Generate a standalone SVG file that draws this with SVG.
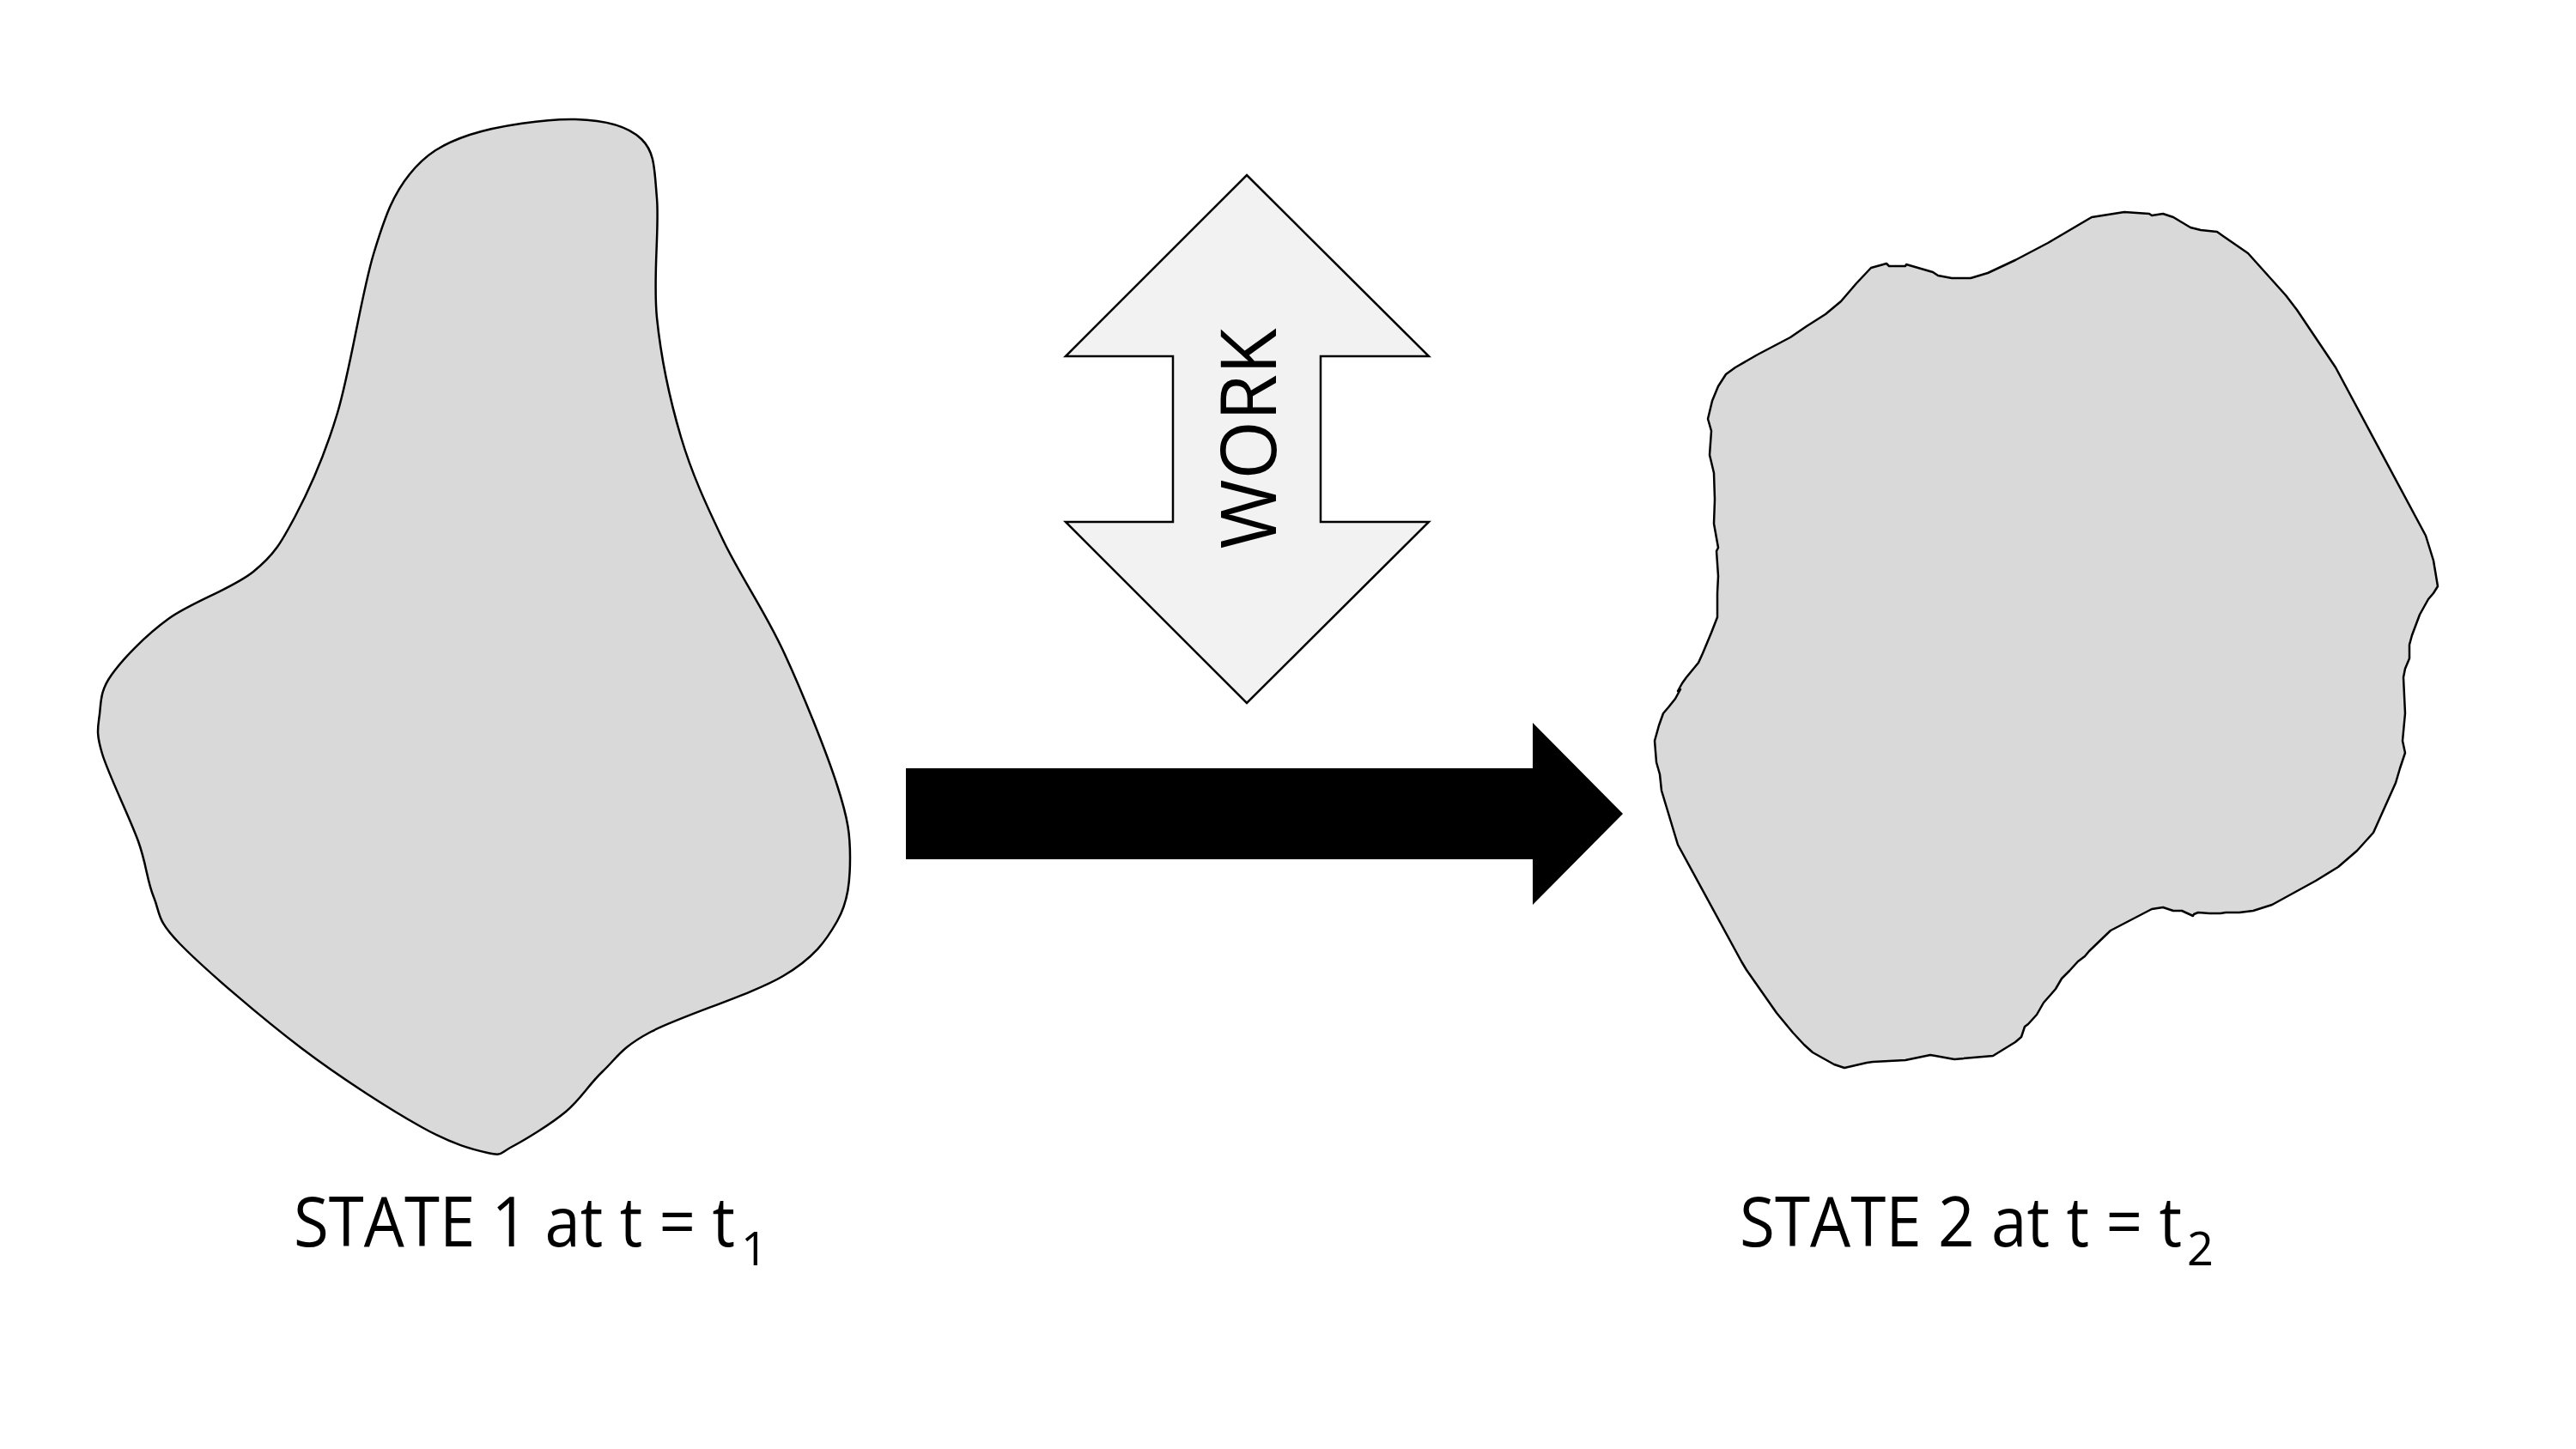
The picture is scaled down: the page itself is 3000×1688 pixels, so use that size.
<svg xmlns="http://www.w3.org/2000/svg" width="3000" height="1688" viewBox="0 0 3000 1688">
<style>
.blob{fill:#d9d9d9;stroke:#000;stroke-width:2.5;stroke-linejoin:round}
.lbl{font-family:"Open Sans","Liberation Sans",sans-serif;fill:#000}
</style>
<rect width="3000" height="1688" fill="#fff"/>
<g id="state1">
<path class="blob" d="M670,139 C703.3,139.8 731.2,146.7 747,162 C762.8,177.3 762,196.3 765,231 C768,265.7 760.3,323.7 765,370 C769.7,416.3 780.2,465.8 793,509 C805.8,552.2 822.2,587.5 842,629 C861.8,670.5 889.8,710.3 912,758 C934.2,805.7 962,874.8 975,915 C988,955.2 990,972.7 990,999 C990,1025.3 988,1050 975,1073 C962,1096 948.2,1115.5 912,1137 C875.8,1158.5 793,1183.5 758,1202 C723,1220.5 718.5,1232.5 702,1248 C685.5,1263.5 676.7,1280.3 659,1295 C641.3,1309.7 611.2,1328 596,1336 C580.8,1344 585.5,1346.8 568,1343 C550.5,1339.2 527.2,1333.3 491,1313 C454.8,1292.7 397.8,1256.5 351,1221 C304.2,1185.5 238.7,1129.3 210,1100 C181.3,1070.7 187.2,1065 179,1045 C170.8,1025 171,1007.8 161,980 C151,952.2 126.5,902.7 119,878 C111.5,853.3 114.2,847.3 116,832 C117.8,816.7 116.7,804.5 130,786 C143.3,767.5 168.5,741 196,721 C223.5,701 270.3,686 295,666 C319.7,646 327.7,631.8 344,601 C360.3,570.2 377.8,531.8 393,481 C408.2,430.2 421,342.3 435,296 C449,249.7 458.3,226.2 477,203 C495.7,179.8 514.8,167.7 547,157 C579.2,146.3 636.7,138.2 670,139 Z"/>
<text class="lbl" x="342" y="1452" font-size="81" textLength="514" lengthAdjust="spacingAndGlyphs">STATE 1 at t = t</text>
<text class="lbl" x="863" y="1474" font-size="54">1</text>
</g>
<g id="state2">
<path class="blob" d="M2179,312 L2197,307 L2200,310 L2219,310 L2220,308 L2251,317 L2257,321 L2273,324 L2295,324 L2315,318 L2347,303 L2385,283 L2436,253 L2474,247 L2503,249 L2506,251 L2519,249 L2531,253 L2551,265 L2563,268 L2582,270 L2589,275 L2618,295 L2662,344 L2675,361 L2720,428 L2825,624 L2834,653 L2839,683 L2834,691 L2828,698 L2818,716 L2809,740 L2806,751 L2806,767 L2801,779 L2799,789 L2801,831 L2798,863 L2801,877 L2795,895 L2790,912 L2764,970 L2745,991 L2723,1010 L2697,1026 L2646,1054 L2624,1061 L2608,1063 L2592,1063 L2586,1064 L2573,1064 L2560,1063 L2555,1065 L2554,1067 L2541,1061 L2531,1061 L2519,1057 L2506,1059 L2458,1084 L2433,1108 L2428,1114 L2420,1120 L2410,1131 L2401,1140 L2394,1152 L2388,1159 L2380,1168 L2372,1182 L2362,1193 L2358,1196 L2354,1208 L2347,1214 L2321,1230 L2276,1234 L2254,1230 L2248,1229 L2219,1235 L2181,1237 L2174,1238 L2148,1244 L2136,1240 L2111,1226 L2101,1217 L2088,1203 L2069,1180 L2034,1130 L2028,1120 L1954,984 L1935,921 L1933,902 L1929,888 L1927,863 L1932,845 L1937,831 L1943,824 L1951,814 L1957,803 L1954,805 L1959,796 L1964,789 L1978,772 L1983,761 L1993,737 L2000,719 L2000,691 L2001,671 L1999,642 L2001,638 L1996,610 L1997,582 L1996,551 L1991,530 L1993,502 L1989,488 L1994,467 L2001,450 L2010,436 L2021,428 L2047,413 L2085,393 L2104,380 L2126,366 L2144,351 L2162,330 Z"/>
<text class="lbl" x="2026" y="1452" font-size="81" textLength="515" lengthAdjust="spacingAndGlyphs">STATE 2 at t = t</text>
<text class="lbl" x="2547" y="1474" font-size="54">2</text>
</g>
<g id="work">
<path d="M1452,204 L1664,415 L1538,415 L1538,608 L1664,608 L1452,819 L1241,608 L1366,608 L1366,415 L1241,415 Z" fill="#f2f2f2" stroke="#000" stroke-width="2.5" stroke-linejoin="miter"/>
<text class="lbl" transform="translate(1486,511) rotate(-90)" x="0" y="0" font-size="90" text-anchor="middle" textLength="257" lengthAdjust="spacingAndGlyphs">WORK</text>
</g>
<g id="connectors">
<path d="M1055,895 L1785,895 L1785,842 L1890,948 L1785,1054 L1785,1001 L1055,1001 Z" fill="#000"/>
</g>
</svg>
